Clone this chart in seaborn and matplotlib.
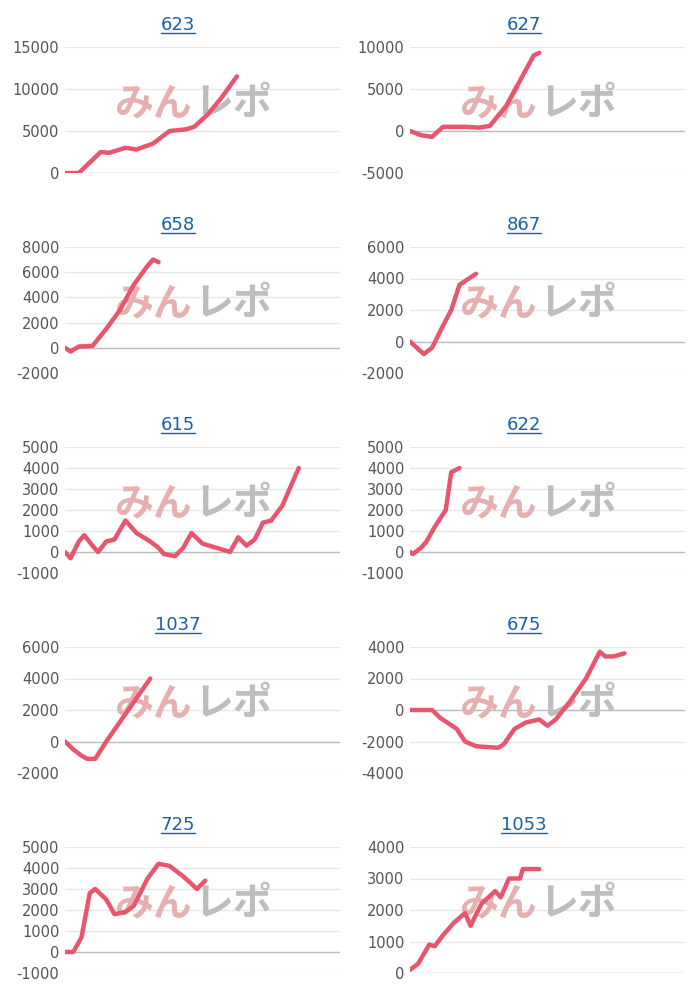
import matplotlib
matplotlib.use("Agg")
import matplotlib.pyplot as plt
from matplotlib.lines import Line2D
import seaborn as sns
import pandas as pd

# x is the share of the (common) horizontal range, 0..1
titles = ["623", "627", "658", "867", "615", "622", "1037", "675", "725", "1053"]

x_623 = [0, .05, .13, .16, .22, .26, .32, .38, .44, .47, .52, .57, .625]
y_623 = [0, 0, 2500, 2400, 3000, 2800, 3500, 5000, 5200, 5500, 7000, 9000, 11500]
x_627 = [0, .04, .08, .12, .2, .25, .29, .35, .4, .45, .47]
y_627 = [0, -500, -700, 500, 500, 400, 600, 3000, 6000, 9000, 9300]
x_658 = [0, .02, .05, .1, .15, .2, .25, .3, .32, .34]
y_658 = [0, -300, 100, 150, 1500, 3000, 5000, 6500, 7000, 6800]
x_867 = [0, .05, .08, .12, .15, .18, .24]
y_867 = [0, -800, -400, 1000, 2000, 3600, 4300]
x_615 = [0, .02, .05, .07, .1, .12, .15, .18, .22, .26, .31, .34, .36, .4, .43,
         .46, .5, .55, .6, .63, .66, .69, .72, .75, .79, .85]
y_615 = [0, -300, 500, 800, 300, 0, 500, 600, 1500, 900, 500, 200, -100, -200, 200,
         900, 400, 200, 0, 700, 300, 600, 1400, 1500, 2200, 4000]
x_622 = [0, .01, .04, .06, .09, .13, .15, .18]
y_622 = [0, -100, 200, 500, 1200, 2000, 3800, 4000]
x_1037 = [0, .03, .06, .08, .11, .15, .19, .23, .27, .31]
y_1037 = [0, -500, -900, -1100, -1100, 0, 1000, 2000, 3000, 4000]
x_675 = [0, .08, .11, .17, .2, .24, .32, .34, .38, .42, .47, .5, .53, .58, .64, .69, .71, .74, .78]
y_675 = [0, 0, -500, -1200, -2000, -2300, -2400, -2200, -1200, -800, -600, -1000, -600,
         500, 2000, 3700, 3400, 3400, 3600]
x_725 = [0, .03, .06, .09, .11, .15, .18, .22, .25, .3, .34, .38, .43, .48, .51]
y_725 = [0, 0, 700, 2800, 3000, 2500, 1800, 1900, 2200, 3500, 4200, 4100, 3600, 3000, 3400]
x_1053 = [0, .03, .07, .09, .12, .16, .2, .22, .26, .31, .33, .36, .4, .41, .47]
y_1053 = [100, 300, 900, 850, 1200, 1600, 1900, 1500, 2200, 2600, 2400, 3000, 3000, 3300, 3300]

series = [(x_623, y_623), (x_627, y_627), (x_658, y_658), (x_867, y_867), (x_615, y_615),
          (x_622, y_622), (x_1037, y_1037), (x_675, y_675), (x_725, y_725), (x_1053, y_1053)]
yticks = [
    [0, 5000, 10000, 15000], [-5000, 0, 5000, 10000],
    [-2000, 0, 2000, 4000, 6000, 8000], [-2000, 0, 2000, 4000, 6000],
    [-1000, 0, 1000, 2000, 3000, 4000, 5000], [-1000, 0, 1000, 2000, 3000, 4000, 5000],
    [-2000, 0, 2000, 4000, 6000], [-4000, -2000, 0, 2000, 4000],
    [-1000, 0, 1000, 2000, 3000, 4000, 5000], [0, 1000, 2000, 3000, 4000],
]

sns.set_style("white")
plt.rcParams['font.family'] = ['DejaVu Sans', 'Noto Sans CJK JP']
fig = plt.figure(figsize=(7, 10), dpi=100)

title_texts = []
for i, (t, (xs, ys), ticks) in enumerate(zip(titles, series, yticks)):
    row, col = divmod(i, 2)
    left = 65 / 700 if col == 0 else 410 / 700
    top = 47 + 200 * row
    ax = fig.add_axes([left, 1 - (top + 126) / 1000, 275 / 700, 126 / 1000])
    df = pd.DataFrame({"x": xs, "y": ys})
    sns.lineplot(data=df, x="x", y="y", ax=ax, color="#e9556f", linewidth=3.2, zorder=3)
    ax.set_xlim(0, 1)
    ax.set_ylim(ticks[0], ticks[-1])
    ax.set_yticks(ticks)
    ax.set_yticklabels([str(v) for v in ticks], color="#555555", fontsize=10.5)
    ax.set_xticks([])
    ax.set_xlabel("")
    ax.set_ylabel("")
    for v in ticks:
        ax.axhline(v, color="#bbbbbb" if v == 0 else "#e6e6e6", lw=1, zorder=0)
    for s in ax.spines.values():
        s.set_visible(False)
    ax.tick_params(axis="y", length=0, pad=4)
    cx = (178 if col == 0 else 524) / 700
    tt = fig.text(cx, 1 - (top - 22) / 1000, t, color="#1a5fa8", fontsize=13,
                  ha="center", va="center")
    title_texts.append(tt)
    # watermark
    ax.text(0.46, 0.55, "みん", transform=ax.transAxes, fontsize=28, fontweight="bold",
            style="italic", color="#e6b0b0", ha="right", va="center",
            family=["Noto Sans CJK JP"], zorder=1)
    ax.text(0.47, 0.55, "レポ", transform=ax.transAxes, fontsize=28, fontweight="bold",
            style="italic", color="#bdbdbd", ha="left", va="center",
            family=["Noto Sans CJK JP"], zorder=1)

# underline the titles (they are links)
fig.canvas.draw()
r = fig.canvas.get_renderer()
for tt in title_texts:
    bb = tt.get_window_extent(r).transformed(fig.transFigure.inverted())
    y = bb.y0 + 0.001
    fig.add_artist(Line2D([bb.x0, bb.x1], [y, y], transform=fig.transFigure,
                          color="#1a5fa8", lw=1))

fig.savefig("out.png", dpi=100)
